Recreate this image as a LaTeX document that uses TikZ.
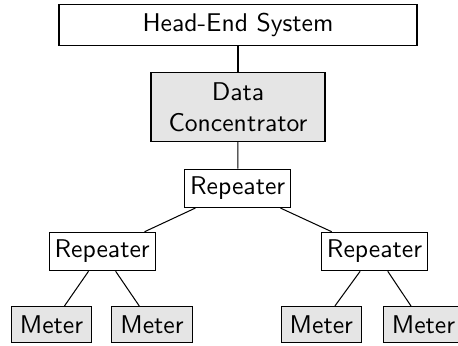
\documentclass[tikz,border=0pt]{standalone}
\begin{document}
\begin{tikzpicture}[x=0.39pt,y=-0.39pt,
  box/.style={draw, rectangle, inner sep=0pt, font=\sffamily, align=center},
  shaded/.style={box, fill=gray!20},
  plain/.style={box, fill=white},
  link/.style={draw, line width=0.4pt}]
\useasboundingbox (0,0) rectangle (458,345);
\node[plain, minimum width=358*0.39pt, minimum height=40.5*0.39pt] (he) at (238,25) {Head-End System};
\node[shaded, minimum width=174*0.39pt, minimum height=68.5*0.39pt] (dc) at (238,107) {Data\\Concentrator};
\node[plain, minimum width=106*0.39pt, minimum height=38.5*0.39pt] (r0) at (237.7,188.3) {Repeater};
\node[plain, minimum width=106*0.39pt, minimum height=38.5*0.39pt] (r1) at (102.2,251.5) {Repeater};
\node[plain, minimum width=106*0.39pt, minimum height=38.5*0.39pt] (r2) at (374.5,251.5) {Repeater};
\node[shaded, minimum width=80.5*0.39pt, minimum height=36.5*0.39pt] (m1) at (51.5,324.7) {Meter};
\node[shaded, minimum width=80.5*0.39pt, minimum height=36.5*0.39pt] (m2) at (152,324.7) {Meter};
\node[shaded, minimum width=80.5*0.39pt, minimum height=36.5*0.39pt] (m3) at (321.3,324.7) {Meter};
\node[shaded, minimum width=80.5*0.39pt, minimum height=36.5*0.39pt] (m4) at (423.5,324.7) {Meter};
\draw[link] (he) -- (dc);
\draw[link] (dc) -- (r0);
\draw[link] (r0) -- (r1);
\draw[link] (r0) -- (r2);
\draw[link] (r1) -- (m1);
\draw[link] (r1) -- (m2);
\draw[link] (r2) -- (m3);
\draw[link] (r2) -- (m4);
\end{tikzpicture}
\end{document}
